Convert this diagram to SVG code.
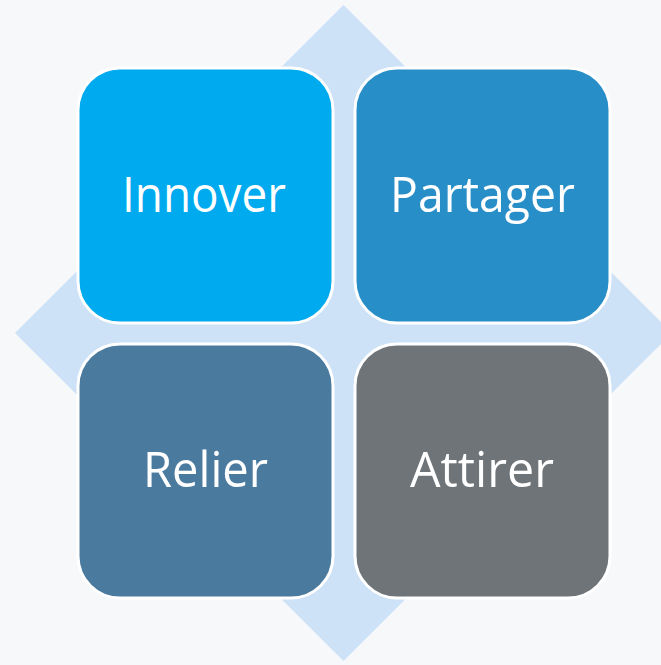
<svg xmlns="http://www.w3.org/2000/svg" width="661" height="665" viewBox="0 0 661 665">
<style>
.box{stroke:#ffffff;stroke-width:3}
.lbl{font-family:"Open Sans","Noto Sans","Liberation Sans",sans-serif;font-size:50px;fill:#ffffff;text-anchor:middle}
</style>
<rect x="0" y="0" width="661" height="665" fill="#F6F8FA"/>
<polygon points="343.5,5 672,333 343.5,661 15,333" fill="#CDE2F7"/>
<g id="innover">
<rect class="box" x="78" y="68" width="255" height="255" rx="42" ry="42" fill="#00AAEE"/>
<text class="lbl" x="204" y="212" textLength="164" lengthAdjust="spacingAndGlyphs">Innover</text>
</g>
<g id="partager">
<rect class="box" x="355" y="68" width="255" height="255" rx="42" ry="42" fill="#278EC8"/>
<text class="lbl" x="482.5" y="212" textLength="185" lengthAdjust="spacingAndGlyphs">Partager</text>
</g>
<g id="relier">
<rect class="box" x="78" y="344" width="255" height="254" rx="42" ry="42" fill="#4B7A9F"/>
<text class="lbl" x="205.5" y="487" textLength="125" lengthAdjust="spacingAndGlyphs">Relier</text>
</g>
<g id="attirer">
<rect class="box" x="355" y="344" width="255" height="254" rx="42" ry="42" fill="#6E7478"/>
<text class="lbl" x="482" y="487" textLength="144" lengthAdjust="spacingAndGlyphs">Attirer</text>
</g>
<g id="connectors"></g>
</svg>
